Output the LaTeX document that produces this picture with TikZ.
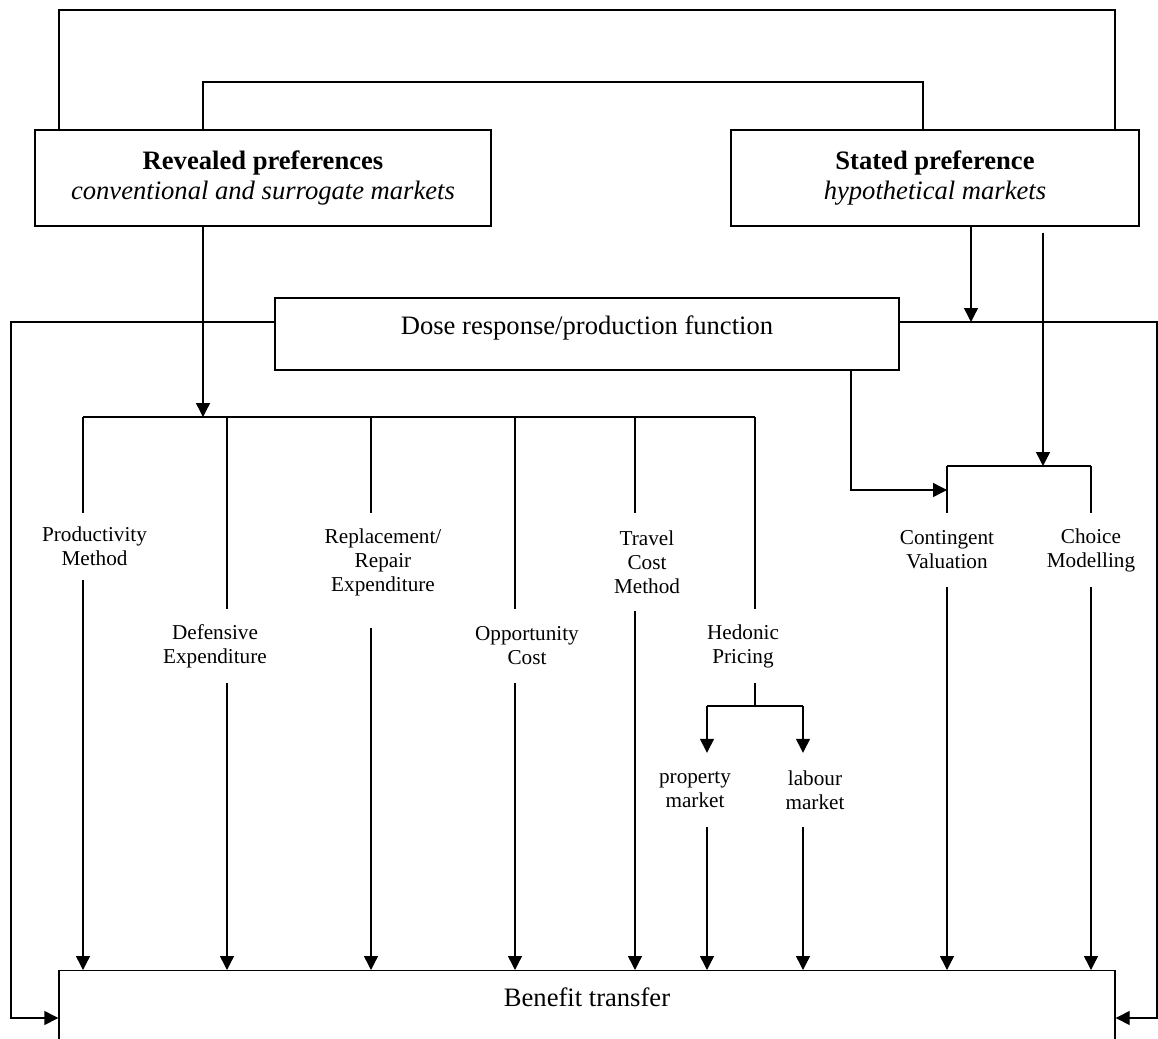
\documentclass[tikz,border=0pt]{standalone}
\usepackage{fontspec}
\setmainfont{Liberation Serif}
\usetikzlibrary{arrows.meta}

\begin{document}
\begin{tikzpicture}[
        % one unit = one pixel of the original, y downwards
        x=0.5pt, y=-0.5pt,
        line width=0.7pt,
        every node/.style={font=\fontsize{13.3}{15}\selectfont},
        % Box Styles
        prefbox/.style={
            rectangle,
            draw,
            align=center,
            inner sep=0pt,
            minimum height=48pt
        },
        dosebox/.style={
            rectangle,
            draw,
            inner sep=0pt,
            text height=18pt,
            text depth=18pt
        },
        methlabel/.style={
            align=center,
            inner sep=0pt,
            font=\fontsize{10.6}{12}\selectfont
        },
        % Connector Styles
        arrow/.style={-{Triangle[length=7pt,width=7pt]}}
    ]

    \useasboundingbox (0,0) rectangle (1158,1039);
    \clip (0,0) rectangle (1158,1039);

    % --- Preference boxes (Top) ---
    \node[prefbox, minimum width=228pt] (rev) at (263,178) {
        \textbf{Revealed preferences}\\
        \textit{conventional and surrogate markets}
    };
    \node[prefbox, minimum width=204pt] (stat) at (935,178) {
        \textbf{Stated preference}\\
        \textit{hypothetical markets}
    };

    % --- Dose response (Middle) ---
    \node[dosebox, minimum width=312pt] (dose) at (587,334) {Dose response/production function};

    % --- Benefit transfer (Bottom) ---
    \node[draw, anchor=north, minimum width=528pt, inner sep=0pt,
          text height=18pt, text depth=37pt] (ben) at (587,970) {Benefit transfer};

    % --- Revealed preference methods ---
    \node[methlabel, minimum height=32.5pt] (prod) at (94.5,546.5) {Productivity\\Method};
    \node[methlabel, minimum height=36pt] (def) at (215,646) {Defensive\\Expenditure};
    \node[methlabel, minimum height=48pt] (repl) at (383,562) {Replacement/\\Repair\\Expenditure};
    \node[methlabel, minimum height=36pt] (opp) at (527,646) {Opportunity\\Cost};
    \node[methlabel, minimum height=48pt] (travel) at (647,562) {Travel\\Cost\\Method};
    \node[methlabel, minimum height=36pt] (hed) at (743,646) {Hedonic\\Pricing};
    \node[methlabel, minimum height=36.5pt] (prop) at (695,790) {property\\market};
    \node[methlabel, minimum height=36.5pt] (lab) at (815,790) {labour\\market};

    % --- Stated preference methods ---
    \node[methlabel, minimum height=36pt] (cont) at (947,550) {Contingent\\Valuation};
    \node[methlabel, minimum height=36pt] (choice) at (1091,550) {Choice\\Modelling};

    % --- Junction points ---
    \coordinate (topL) at (59,10);
    \coordinate (topR) at (1115,10);
    \coordinate (midL) at (203,82);
    \coordinate (midR) at (923,82);
    \coordinate (farL) at (11,1018);
    \coordinate (farR) at (1157,1018);
    \coordinate (b1) at (83,417);
    \coordinate (b2) at (227,417);
    \coordinate (b3) at (371,417);
    \coordinate (b4) at (515,417);
    \coordinate (b5) at (635,417);
    \coordinate (b6) at (755,417);
    \coordinate (hsplit) at (755,706);
    \coordinate (hp) at (707,706);
    \coordinate (hl) at (803,706);
    \coordinate (sdl) at (971,322);
    \coordinate (dcv) at (851,490);
    \coordinate (cvL) at (947,466);
    \coordinate (cvM) at (1043,466);
    \coordinate (cvR) at (1091,466);

    % --- Paths & Connections ---

    % loops joining the two preference boxes
    \draw (rev.north -| topL) -- (topL) -- (topR) -- (stat.north -| topR);
    \draw (rev.north -| midL) -- (midL) -- (midR) -- (stat.north -| midR);

    % revealed preferences down to the bus
    \draw[arrow] (rev.south -| midL) -- (midL |- b1);
    \draw (b1) -- (b6);

    % bus to methods, methods to benefit transfer
    \draw (b1) -- (b1 |- prod.north);
    \draw[arrow] (b1 |- prod.south) -- (b1 |- ben.north);
    \draw (b2) -- (b2 |- def.north);
    \draw[arrow] (b2 |- def.south) -- (b2 |- ben.north);
    \draw (b3) -- (b3 |- repl.north);
    \draw[arrow] ([yshift=-8.5pt]b3 |- repl.south) -- (b3 |- ben.north);
    \draw (b4) -- (b4 |- opp.north);
    \draw[arrow] (b4 |- opp.south) -- (b4 |- ben.north);
    \draw (b5) -- (b5 |- travel.north);
    \draw[arrow] (b5 |- travel.south) -- (b5 |- ben.north);
    \draw (b6) -- (b6 |- hed.north);

    % hedonic pricing split
    \draw (b6 |- hed.south) -- (hsplit);
    \draw (hp) -- (hl);
    \draw[arrow] (hp) -- (hp |- prop.north);
    \draw[arrow] (hl) -- (hl |- lab.north);
    \draw[arrow] (hp |- prop.south) -- (hp |- ben.north);
    \draw[arrow] (hl |- lab.south) -- (hl |- ben.north);

    % stated preference side
    \draw[arrow] (stat.south -| sdl) -- (sdl);
    \draw[arrow] ([yshift=-3pt]stat.south -| cvM) -- (cvM);
    \draw (cvL) -- (cvR);
    \draw (cvL) -- (cont.north);
    \draw (cvR) -- (choice.north);
    \draw[arrow] (dose.south -| dcv) -- (dcv) -- (dcv -| cvL);
    \draw[arrow] (cont.south) -- (cont.south |- ben.north);
    \draw[arrow] (choice.south) -- (choice.south |- ben.north);

    % dose response round the sides into benefit transfer
    \draw[arrow] ([yshift=6pt]dose.west) -| (farL) -- (farL -| ben.west);
    \draw[arrow] ([yshift=6pt]dose.east) -| (farR) -- (farR -| ben.east);

\end{tikzpicture}
\end{document}
